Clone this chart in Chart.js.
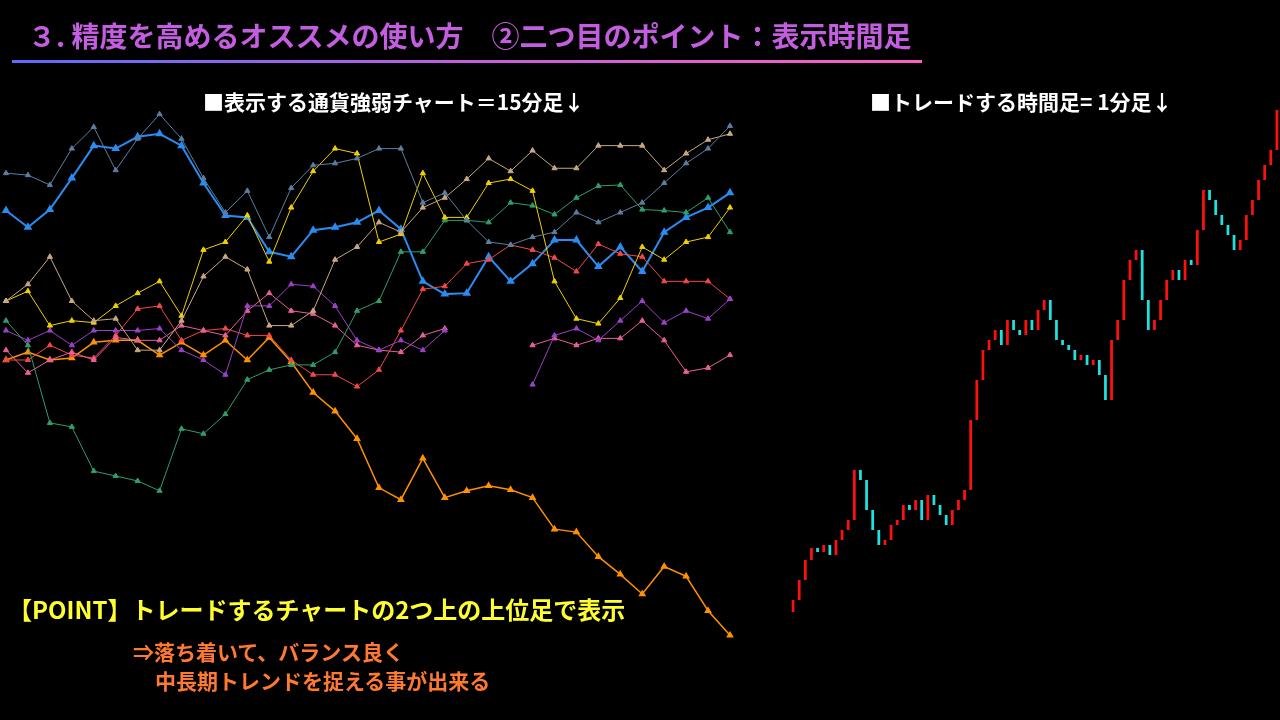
<!DOCTYPE html>
<html><head><meta charset="utf-8">
<script src="https://cdn.jsdelivr.net/npm/chart.js@4"></script>
<style>
body{margin:0;background:#000;width:1280px;height:720px;overflow:hidden;font-family:"Noto Sans CJK JP","Noto Sans",sans-serif;position:relative}
.t{position:absolute;white-space:nowrap;font-weight:bold}
#cl{position:absolute;left:0;top:0}
#cr{position:absolute;left:790px;top:0}
</style></head><body>
<canvas id="cl" width="736" height="720"></canvas>
<canvas id="cr" width="490" height="720"></canvas>
<div class="t" style="left:28px;top:15px;font-size:28px;color:#c45ee0">３. 精度を高めるオススメの使い方　②二つ目のポイント：表示時間足</div>
<div style="position:absolute;left:12px;top:60px;width:910px;height:3px;background:linear-gradient(90deg,#5a6cff,#c45ee0,#ff5fc0)"></div>
<div class="t" style="left:203px;top:86px;font-size:21px;color:#fff">■表示する通貨強弱チャート＝15分足↓</div>
<div class="t" style="left:870px;top:86px;font-size:21px;color:#fff">■トレードする時間足= 1分足↓</div>
<div class="t" style="left:8px;top:591px;font-size:24px;color:#ffff30">【POINT】トレードするチャートの2つ上の上位足で表示</div>
<div class="t" style="left:133px;top:636px;font-size:21px;color:#ff7a30">⇒落ち着いて、バランス良く</div>
<div class="t" style="left:155px;top:665px;font-size:21px;color:#ff7a30">中長期トレンドを捉える事が出来る</div>
<script>
const steps = Array.from({length:34},(_,i)=>String(i));
const blue = [208,225,207,175,142,145,133,130,142,180,213,215,250,255,228,225,220,208,227,280,293,292,255,280,262,238,238,265,245,270,230,215,205,190];
const steel = [170,172,182,145,123,167,135,110,135,175,210,188,235,185,162,160,155,145,145,200,190,218,240,243,235,230,210,220,210,200,180,160,145,122];
const gold = [300,290,325,320,322,305,292,280,315,248,240,213,260,205,168,145,150,240,232,170,215,215,180,176,188,280,318,323,297,245,258,240,235,205];
const tan = [300,283,255,300,320,318,350,350,320,275,255,268,325,325,310,258,245,220,230,205,195,176,155,168,147,165,165,142,142,142,167,150,136,130];
const green = [320,345,424,428,473,478,483,493,430,435,415,380,370,365,365,352,310,300,250,250,218,218,220,200,203,212,195,183,182,207,208,210,195,230];
const red = [360,360,345,355,358,335,308,305,340,330,328,335,335,360,375,375,387,370,330,288,285,262,258,243,248,256,270,242,252,255,280,280,280,298];
const purple = [330,340,330,345,330,330,330,328,350,360,375,305,305,283,285,305,340,350,340,350,330,null,null,null,385,335,328,340,320,300,322,310,318,298];
const pink = [350,373,360,352,360,337,340,340,325,330,335,310,292,310,313,325,345,350,352,335,328,null,null,null,345,338,345,338,338,320,340,372,368,355];
const orange = [360,352,360,358,342,340,340,355,342,355,340,360,337,362,393,412,440,490,502,460,500,493,488,492,500,532,535,560,578,598,570,580,615,640];
const candleClose = [600,580,560,548,552,545,555,540,530,520,470,480,510,530,545,540,525,520,505,510,500,520,495,505,515,525,510,500,490,420,380,350,340,330,345,320,330,335,320,330,310,300,320,340,345,350,360,355,365,360,375,400,340,320,280,260,250,300,330,320,300,280,270,280,260,265,230,190,200,215,225,235,250,240,215,200,180,165,150,110];
const candleOpen = [612].concat(candleClose.slice(0,-1));
const candleIdx = candleClose.map((_,i)=>String(i));

function ds(d,c,w,pt){return {data:d,borderColor:c,backgroundColor:c,borderWidth:w,pointStyle:'triangle',pointRadius:pt?3:0,spanGaps:false,tension:0};}
const yScale = {display:false,reverse:true,min:0,max:720};
new Chart(document.getElementById('cl'),{type:'line',data:{labels:steps,datasets:[
 ds(steel,'#5a7fa0',1,true),ds(tan,'#c8a882',1,true),ds(gold,'#f0d000',1,true),ds(green,'#2e9e6a',1,true),
 ds(purple,'#9b40c8',1,true),ds(pink,'#e8609a',1,true),ds(red,'#f04848',1,true),ds(orange,'#ff9000',1.5,true),ds(blue,'#2a8cf0',2,true)]},
 options:{animation:false,responsive:false,plugins:{legend:{display:false},tooltip:{enabled:false}},layout:{padding:0},
 scales:{x:{display:false,offset:false},y:yScale}}});
new Chart(document.getElementById('cr'),{type:'bar',data:{labels:candleIdx,datasets:[{
 data:candleClose.map((c,i)=>[candleOpen[i],c]),
 backgroundColor:candleClose.map((c,i)=>c<candleOpen[i]?'#ff1010':'#20e0e0'),
 borderWidth:0,barPercentage:0.45,categoryPercentage:1,minBarLength:2}]},
 options:{animation:false,responsive:false,plugins:{legend:{display:false},tooltip:{enabled:false}},layout:{padding:0},
 scales:{x:{display:false},y:yScale}}});
</script></body></html>
